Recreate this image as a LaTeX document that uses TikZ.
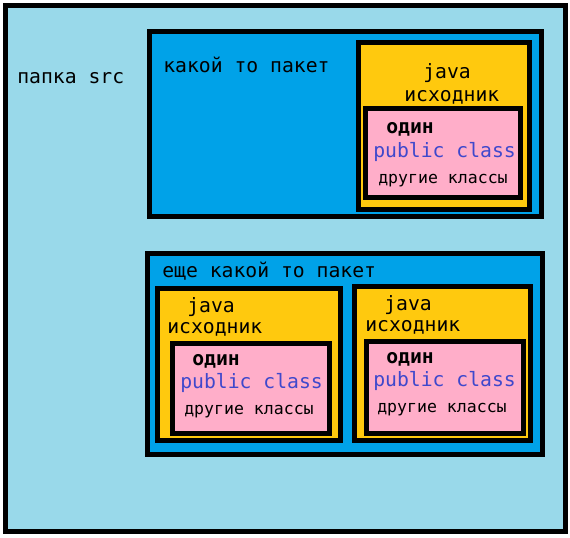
\documentclass[tikz,border=0pt]{standalone}
\usepackage{fontspec}
\setmonofont{DejaVu Sans Mono}
\usepackage{xcolor,tikz}
\definecolor{srcblue}{RGB}{153,217,234}
\definecolor{pkgblue}{RGB}{0,162,232}
\definecolor{javagold}{RGB}{255,201,14}
\definecolor{classpink}{RGB}{255,174,201}
\definecolor{kwblue}{RGB}{63,72,204}
\begin{document}
\begin{tikzpicture}[x=0.75pt,y=-0.75pt,
  every node/.style={font=\ttfamily\fontsize{14.8}{16}\selectfont,inner sep=0pt,anchor=base west},
  frame/.style={draw=black,line width=3.75pt},
  small/.style={font=\ttfamily\fontsize{12.4}{14}\selectfont}]
\useasboundingbox (0,0) rectangle (570,537);
\fill[white] (0,0) rectangle (570,537);
% src folder
\draw[frame,fill=srcblue] (5.5,5.5) rectangle (565.5,531.5);
\node (srcLbl) at (17,83) {папка src};
% first package
\draw[frame,fill=pkgblue] (149.5,31.5) rectangle (541.5,216);
\node (pkgALbl) at (163,72) {какой то пакет};
\draw[frame,fill=javagold] (358.5,42) rectangle (529,209);
\node (javaA) at (423,78) {java};
\node (srcA) at (404,101) {исходник};
\draw[frame,fill=classpink] (365.5,108.5) rectangle (520.5,197.5);
\node[font=\ttfamily\bfseries\fontsize{14.8}{16}\selectfont] (oneA) at (386,133) {один};
\node[text=kwblue] (pubA) at (373,157) {public class};
\node[small] (otherA) at (378,183) {другие классы};
% second package
\draw[frame,fill=pkgblue] (147.5,253.5) rectangle (542.5,454.5);
\node (pkgBLbl) at (162,277) {еще какой то пакет};
\draw[frame,fill=javagold] (157.5,288.5) rectangle (340.5,440.5);
\node (javaB) at (187,312) {java};
\node (srcB) at (167,333) {исходник};
\draw[frame,fill=classpink] (172.5,343.5) rectangle (329.5,433.5);
\node[font=\ttfamily\bfseries\fontsize{14.8}{16}\selectfont] (oneB) at (192,365) {один};
\node[text=kwblue] (pubB) at (180,388) {public class};
\node[small] (otherB) at (184,414) {другие классы};
\draw[frame,fill=javagold] (354.5,286.5) rectangle (530.5,440.5);
\node (javaC) at (384,310) {java};
\node (srcC) at (365,331) {исходник};
\draw[frame,fill=classpink] (366.5,341.5) rectangle (523.5,433.5);
\node[font=\ttfamily\bfseries\fontsize{14.8}{16}\selectfont] (oneC) at (386,363) {один};
\node[text=kwblue] (pubC) at (373,386) {public class};
\node[small] (otherC) at (377,412) {другие классы};
\end{tikzpicture}
\end{document}
